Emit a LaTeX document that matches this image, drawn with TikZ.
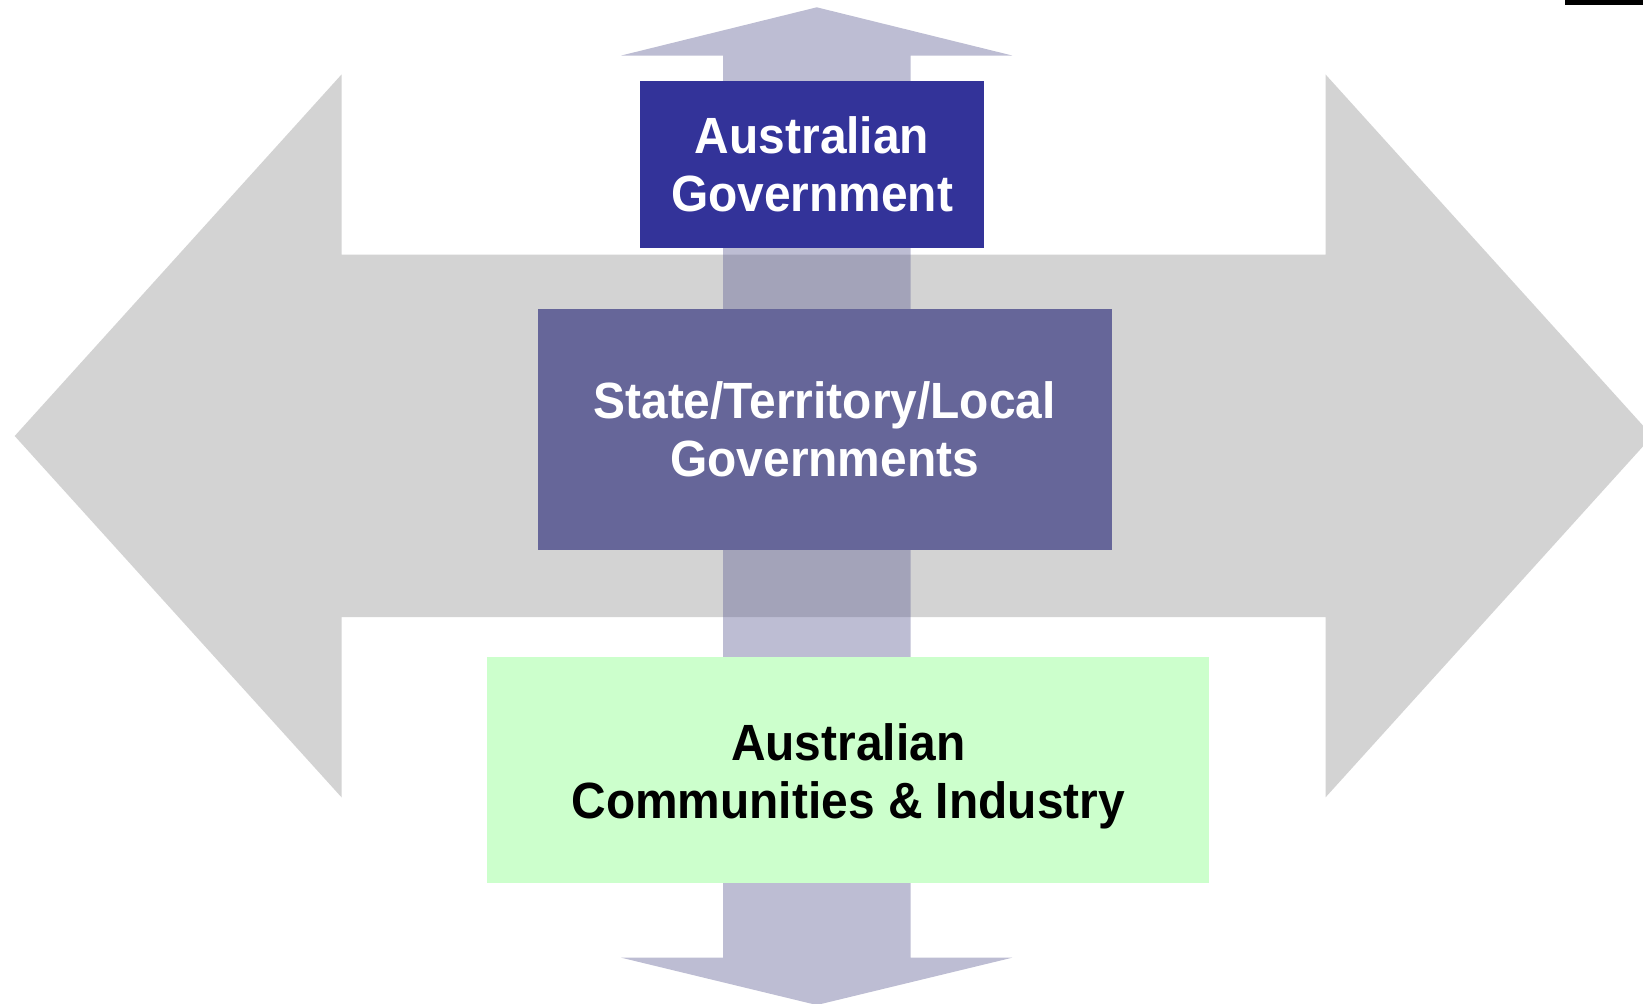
\documentclass[tikz,border=0pt]{standalone}
\usepackage{fontspec}
\setmainfont[FakeStretch=0.94]{Liberation Sans}
\definecolor{govblue}{HTML}{333399}
\definecolor{stateblue}{HTML}{666699}
\definecolor{commgreen}{HTML}{CCFFCC}
\definecolor{arrowgray}{HTML}{D3D3D3}
\begin{document}
\begin{tikzpicture}[x=0.02cm, y=-0.02cm,
    box/.style={inner sep=0pt, align=center,
      font=\fontsize{29}{33}\selectfont\bfseries}]
  \useasboundingbox (0,0) rectangle (1643,1004);

  % The wide grey double arrow behind everything
  \fill [arrowgray] (14.7,436) -- (341.6,74.4) -- (341.6,254.6)
    -- (1325.5,254.6) -- (1325.5,74.4) -- (1652.4,436)
    -- (1325.5,797.4) -- (1325.5,617.2) -- (341.6,617.2)
    -- (341.6,797.4) -- cycle;

  % The see-through vertical double arrow
  \fill [stateblue, opacity=0.43] (816.75,7.3) -- (1012.2,55.5)
    -- (910.5,55.5) -- (910.5,957.7) -- (1012.2,957.7)
    -- (816.75,1005) -- (621.3,957.7) -- (723,957.7)
    -- (723,55.5) -- (621.3,55.5) -- cycle;

  % The three levels
  \node [box, fill=govblue, text=white, minimum width=6.874cm,
    minimum height=3.332cm] (federal) at (812.05,164.5)
    {Australian\\Government};
  \node [box, fill=stateblue, text=white, minimum width=11.484cm,
    minimum height=4.82cm] (state) at (824.6,429.6)
    {State/Territory/Local\\Governments};
  \node [box, fill=commgreen, minimum width=14.44cm,
    minimum height=4.526cm] (community) at (848.2,770.2) {};
  \node [box, text=black] (communitytext)
    at ([yshift=-0.126cm]community.center)
    {Australian\\Communities \& Industry};

  \fill [black] (1565,0) rectangle (1643,4.5);
\end{tikzpicture}
\end{document}
